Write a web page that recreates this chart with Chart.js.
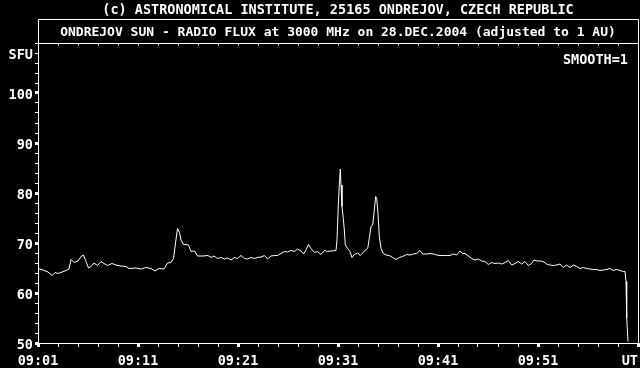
<!DOCTYPE html>
<html>
<head>
<meta charset="utf-8">
<script src="https://cdn.jsdelivr.net/npm/chart.js@4/dist/chart.umd.min.js"></script>
<style>
  html, body { margin: 0; padding: 0; background: #000; }
  canvas { display: block; }
</style>
</head>
<body>
<canvas id="fluxChart" width="640" height="368"></canvas>
<script>
// tick labels along the time axis (every 10 minutes)
const timeLabels = ['09:01', '09:11', '09:21', '09:31', '09:41', '09:51', 'UT'];

// minutes after 09:00 UT
const minutes = [
  1.00, 1.50, 2.00, 2.40, 2.70, 3.00, 3.40, 3.80, 4.10, 4.30,
  4.60, 5.00, 5.30, 5.55, 5.80, 6.05, 6.30, 6.60, 6.95, 7.30,
  7.60, 7.95, 8.40, 8.80, 9.30, 9.80, 10.10, 10.80, 11.30, 11.80,
  12.30, 12.70, 13.10, 13.60, 13.95, 14.30, 14.55, 14.75, 14.95, 15.15,
  15.30, 15.55, 15.80, 16.05, 16.30, 16.65, 16.95, 17.50, 18.00, 18.30,
  18.60, 18.95, 19.30, 19.65, 19.95, 20.30, 20.65, 20.95, 21.30, 21.65,
  21.95, 22.30, 22.65, 22.95, 23.30, 23.65, 23.95, 24.30, 24.65, 24.95,
  25.30, 25.65, 25.95, 26.30, 26.65, 26.95, 27.30, 27.55, 27.80, 28.05,
  28.30, 28.65, 28.95, 29.30, 29.65, 29.95, 30.30, 30.80, 30.90, 31.03,
  31.13, 31.23, 31.30, 31.40, 31.53, 31.63, 31.73, 31.97, 32.20, 32.40,
  32.63, 32.97, 33.23, 33.47, 33.73, 33.97, 34.13, 34.30, 34.47, 34.63,
  34.77, 34.87, 35.00, 35.13, 35.30, 35.53, 35.80, 36.13, 36.47, 36.80,
  37.13, 37.47, 37.87, 38.20, 38.53, 38.87, 39.20, 39.47, 39.87, 40.20,
  40.53, 40.87, 41.20, 41.53, 41.87, 42.20, 42.53, 42.87, 43.20, 43.47,
  43.70, 44.03, 44.37, 44.70, 45.03, 45.37, 45.70, 46.03, 46.37, 46.70,
  47.03, 47.37, 47.70, 48.03, 48.37, 48.70, 49.03, 49.37, 49.70, 50.03,
  50.37, 50.60, 50.93, 51.27, 51.60, 51.93, 52.20, 52.53, 52.87, 53.20,
  53.53, 53.87, 54.20, 54.53, 54.87, 55.20, 55.53, 55.87, 56.20, 56.53,
  56.87, 57.20, 57.53, 57.87, 58.20, 58.53, 58.87, 59.20, 59.53, 59.70,
  59.80, 59.87, 60.00
];

// radio flux in SFU
const flux = [
  64.9, 64.6, 64.2, 63.5, 64.1, 63.9, 64.2, 64.5, 64.8, 66.7,
  66.1, 66.4, 67.3, 67.6, 66.3, 65.0, 65.3, 66.0, 65.5, 66.3,
  65.9, 65.5, 65.9, 65.6, 65.4, 65.3, 64.9, 65.0, 64.8, 65.1,
  64.9, 64.4, 64.9, 64.8, 66.0, 66.1, 66.9, 70.0, 72.9, 72.1,
  70.6, 69.7, 69.7, 69.6, 68.3, 68.4, 67.4, 67.4, 67.5, 67.1,
  67.4, 66.9, 67.1, 66.8, 67.0, 66.6, 67.1, 66.9, 67.5, 66.9,
  66.8, 67.1, 66.9, 67.1, 67.2, 67.5, 66.8, 67.4, 67.5, 67.5,
  67.9, 68.3, 68.2, 68.5, 68.3, 68.8, 68.4, 67.8, 68.6, 69.7,
  68.9, 68.1, 68.3, 67.7, 68.5, 68.3, 68.4, 68.5, 70.6, 77.6,
  81.6, 84.8, 81.6, 77.3, 74.9, 72.6, 69.6, 68.9, 68.3, 67.1,
  67.7, 68.0, 67.5, 68.0, 68.6, 68.9, 70.9, 73.3, 73.6, 76.6,
  79.3, 78.9, 75.9, 71.3, 68.9, 67.9, 67.6, 67.5, 67.1, 66.7,
  67.1, 67.3, 67.7, 67.6, 67.8, 67.9, 68.5, 67.8, 67.8, 67.9,
  67.8, 67.6, 67.5, 67.5, 67.5, 67.5, 67.8, 67.6, 68.4, 67.9,
  67.9, 67.4, 66.9, 66.6, 66.8, 66.4, 66.3, 65.7, 66.1, 65.9,
  66.0, 65.8, 66.1, 66.5, 65.6, 65.9, 66.3, 65.8, 66.3, 65.5,
  65.9, 66.6, 66.4, 66.4, 66.2, 65.7, 65.6, 65.5, 65.6, 65.8,
  65.1, 65.6, 65.1, 65.6, 65.3, 64.9, 65.1, 64.9, 64.8, 64.7,
  64.7, 64.5, 64.6, 64.7, 64.9, 64.5, 64.7, 64.5, 64.3, 64.3,
  62.3, 55.0, 50.3
];

const FONT = { family: '"DejaVu Sans Mono", monospace', size: 13.5, weight: 'bold', lineHeight: '16px' };
const SUB_FONT = { family: '"DejaVu Sans Mono", monospace', size: 13, weight: 'bold', lineHeight: '16px' };

// black background, frame round title + plot, top ticks, SMOOTH label
const framePlugin = {
  id: 'frame',
  beforeDraw(chart) {
    const c = chart.ctx;
    c.save();
    c.fillStyle = '#000';
    c.fillRect(0, 0, chart.width, chart.height);
    c.restore();
  },
  afterDraw(chart) {
    const c = chart.ctx;
    const a = chart.chartArea;
    const L = Math.round(a.left) + 0.5, R = Math.round(a.right) + 0.5;
    const T = Math.round(a.top) + 0.5, B = Math.round(a.bottom) + 0.5;
    c.save();
    c.strokeStyle = '#fff';
    c.lineWidth = 1;
    c.beginPath();
    c.moveTo(L, B); c.lineTo(L, 19.5); c.lineTo(R, 19.5); c.lineTo(R, B);
    c.moveTo(L, T); c.lineTo(R, T);
    // small ticks hanging from the top edge
    chart.scales.x.ticks.forEach((t) => {
      const px = Math.round(chart.scales.x.getPixelForValue(t.value)) + 0.5;
      c.moveTo(px, T); c.lineTo(px, T + 2);
    });
    c.stroke();
    c.fillStyle = '#fff';
    c.font = 'bold 13.5px "DejaVu Sans Mono", monospace';
    c.textAlign = 'right';
    c.textBaseline = 'middle';
    c.fillText('SMOOTH=1', a.right - 10, 60);
    c.restore();
  }
};

const ctx = document.getElementById('fluxChart').getContext('2d');
const chart = new Chart(ctx, {
  type: 'line',
  data: {
    datasets: [{
      data: minutes.map((m, i) => ({ x: m, y: flux[i] })),
      borderColor: '#fff',
      borderWidth: 1,
      pointRadius: 0,
      tension: 0,
      fill: false
    }]
  },
  options: {
    responsive: false,
    animation: false,
    devicePixelRatio: 1,
    layout: { padding: { left: 0, right: 2, top: 0, bottom: 0 } },
    plugins: {
      legend: { display: false },
      tooltip: { enabled: false },
      title: {
        display: true,
        fullSize: false,
        text: '(c) ASTRONOMICAL INSTITUTE, 25165 ONDREJOV, CZECH REPUBLIC',
        color: '#fff',
        font: FONT,
        padding: { top: 2, bottom: 1 }
      },
      subtitle: {
        display: true,
        fullSize: false,
        text: 'ONDREJOV SUN - RADIO FLUX at 3000 MHz on 28.DEC.2004 (adjusted to 1 AU)',
        color: '#fff',
        font: SUB_FONT,
        padding: { top: 6, bottom: 2 }
      }
    },
    scales: {
      x: {
        type: 'linear',
        min: 1,
        max: 61,
        afterFit(scale) { scale.height = 25; scale.paddingLeft = 0; scale.paddingRight = 0; },
        ticks: {
          stepSize: 2,
          autoSkip: false,
          maxRotation: 0,
          color: '#fff',
          font: FONT,
          padding: 6,
          callback(v) {
            if ((v - 1) % 10 !== 0) return '';
            const lab = timeLabels[(v - 1) / 10];
            return lab === 'UT' ? 'UT  ' : lab;
          }
        },
        grid: {
          drawOnChartArea: false,
          drawTicks: true,
          tickLength: 4,
          color: '#fff',
          lineWidth: (c) => (c.tick && (c.tick.value - 1) % 10 === 0 ? 3 : 1)
        },
        border: { display: true, color: '#fff', width: 1 }
      },
      y: {
        min: 50,
        max: 110,
        afterFit(scale) { scale.width = 38; scale.paddingTop = 0; scale.paddingBottom = 0; },
        ticks: {
          stepSize: 2,
          autoSkip: false,
          color: '#fff',
          font: FONT,
          padding: 2,
          labelOffset: 2,
          callback(v) {
            if (v === 108) return 'SFU';
            if (v % 10 === 0 && v <= 100) return String(v);
            return '';
          }
        },
        grid: {
          drawOnChartArea: false,
          drawTicks: true,
          tickLength: 3,
          color: '#fff',
          lineWidth: (c) => (c.tick && c.tick.value % 10 === 0 && c.tick.value <= 100 ? 3 : 1)
        },
        border: { display: true, color: '#fff', width: 1 }
      }
    }
  },
  plugins: [framePlugin]
});
</script>
</body>
</html>
